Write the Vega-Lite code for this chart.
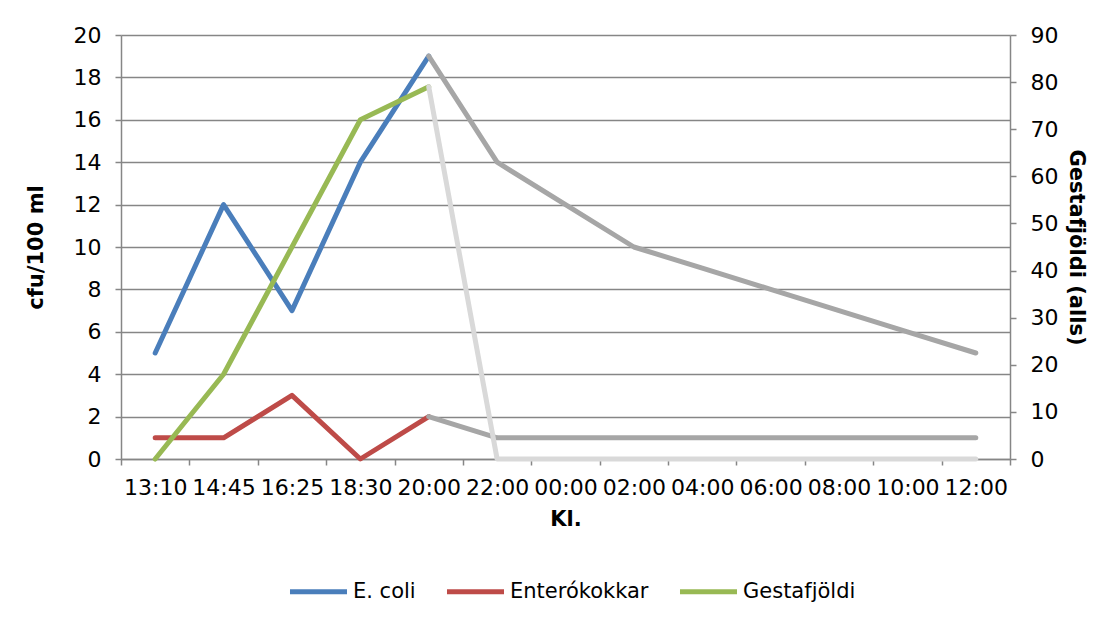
{
  "$schema": "https://vega.github.io/schema/vega-lite/v6.json",
  "width": 889,
  "height": 424,
  "autosize": {"type": "none"},
  "padding": {"left": 121, "top": 35, "right": 108, "bottom": 163},
  "background": "white",
  "config": {
    "font": "DejaVu Sans",
    "view": {"stroke": null},
    "axis": {
      "labelFont": "DejaVu Sans",
      "labelFontSize": 22,
      "labelColor": "#000000",
      "titleFont": "DejaVu Sans",
      "titleFontSize": 21,
      "titleFontWeight": "bold",
      "titleColor": "#000000",
      "domainColor": "#868686",
      "tickColor": "#868686",
      "gridColor": "#868686",
      "domainWidth": 1.5,
      "tickWidth": 1.5,
      "gridWidth": 1.5,
      "tickSize": 6
    },
    "legend": {
      "labelFont": "DejaVu Sans",
      "labelFontSize": 21,
      "labelColor": "#000000",
      "padding": 0
    }
  },
  "datasets": {
    "left": [
      {"kl": "13:10", "s": "E. coli", "v": 5},
      {"kl": "14:45", "s": "E. coli", "v": 12},
      {"kl": "16:25", "s": "E. coli", "v": 7},
      {"kl": "18:30", "s": "E. coli", "v": 14},
      {"kl": "20:00", "s": "E. coli", "v": 19},
      {"kl": "13:10", "s": "Enterókokkar", "v": 1},
      {"kl": "14:45", "s": "Enterókokkar", "v": 1},
      {"kl": "16:25", "s": "Enterókokkar", "v": 3},
      {"kl": "18:30", "s": "Enterókokkar", "v": 0},
      {"kl": "20:00", "s": "Enterókokkar", "v": 2},
      {"kl": "20:00", "s": "E. coli (áfram)", "v": 19},
      {"kl": "22:00", "s": "E. coli (áfram)", "v": 14},
      {"kl": "00:00", "s": "E. coli (áfram)", "v": 12},
      {"kl": "02:00", "s": "E. coli (áfram)", "v": 10},
      {"kl": "04:00", "s": "E. coli (áfram)", "v": 9},
      {"kl": "06:00", "s": "E. coli (áfram)", "v": 8},
      {"kl": "08:00", "s": "E. coli (áfram)", "v": 7},
      {"kl": "10:00", "s": "E. coli (áfram)", "v": 6},
      {"kl": "12:00", "s": "E. coli (áfram)", "v": 5},
      {"kl": "20:00", "s": "Enterókokkar (áfram)", "v": 2},
      {"kl": "22:00", "s": "Enterókokkar (áfram)", "v": 1},
      {"kl": "00:00", "s": "Enterókokkar (áfram)", "v": 1},
      {"kl": "02:00", "s": "Enterókokkar (áfram)", "v": 1},
      {"kl": "04:00", "s": "Enterókokkar (áfram)", "v": 1},
      {"kl": "06:00", "s": "Enterókokkar (áfram)", "v": 1},
      {"kl": "08:00", "s": "Enterókokkar (áfram)", "v": 1},
      {"kl": "10:00", "s": "Enterókokkar (áfram)", "v": 1},
      {"kl": "12:00", "s": "Enterókokkar (áfram)", "v": 1}
    ],
    "right": [
      {"kl": "13:10", "s": "Gestafjöldi", "v": 0},
      {"kl": "14:45", "s": "Gestafjöldi", "v": 18},
      {"kl": "16:25", "s": "Gestafjöldi", "v": 45},
      {"kl": "18:30", "s": "Gestafjöldi", "v": 72},
      {"kl": "20:00", "s": "Gestafjöldi", "v": 79},
      {"kl": "20:00", "s": "Gestafjöldi (áfram)", "v": 79},
      {"kl": "22:00", "s": "Gestafjöldi (áfram)", "v": 0},
      {"kl": "00:00", "s": "Gestafjöldi (áfram)", "v": 0},
      {"kl": "02:00", "s": "Gestafjöldi (áfram)", "v": 0},
      {"kl": "04:00", "s": "Gestafjöldi (áfram)", "v": 0},
      {"kl": "06:00", "s": "Gestafjöldi (áfram)", "v": 0},
      {"kl": "08:00", "s": "Gestafjöldi (áfram)", "v": 0},
      {"kl": "10:00", "s": "Gestafjöldi (áfram)", "v": 0},
      {"kl": "12:00", "s": "Gestafjöldi (áfram)", "v": 0}
    ]
  },
  "layer": [
    {
      "data": {"name": "left"},
      "mark": {"type": "line", "strokeWidth": 5, "strokeCap": "round", "strokeJoin": "round"},
      "encoding": {
        "x": {
          "field": "kl", "type": "nominal",
          "scale": {"type": "band", "domain": ["13:10","14:45","16:25","18:30","20:00","22:00","00:00","02:00","04:00","06:00","08:00","10:00","12:00"], "paddingInner": 0, "paddingOuter": 0},
          "axis": {"title": "Kl.", "labelAngle": 0, "tickBand": "extent", "labelPadding": 12, "titlePadding": 10, "grid": false}
        },
        "y": {
          "field": "v", "type": "quantitative",
          "scale": {"domain": [0, 20]},
          "axis": {"orient": "left", "title": "cfu/100 ml", "values": [0,2,4,6,8,10,12,14,16,18,20], "grid": true, "labelPadding": 14, "titlePadding": 27}
        },
        "color": {
          "field": "s", "type": "nominal",
          "scale": {"domain": ["E. coli","Enterókokkar","Gestafjöldi","E. coli (áfram)","Enterókokkar (áfram)","Gestafjöldi (áfram)"], "range": ["#4A7EBB","#BE4B48","#98B954","#A6A6A6","#A6A6A6","#D9D9D9"]},
          "legend": {"values": ["E. coli","Enterókokkar","Gestafjöldi"], "orient": "none", "legendX": 166, "legendY": 525, "direction": "horizontal", "title": null, "symbolType": "stroke", "symbolStrokeWidth": 5, "symbolSize": 3250, "columnPadding": 20, "labelOffset": 3}
        }
      }
    },
    {
      "data": {"name": "right"},
      "mark": {"type": "line", "strokeWidth": 5, "strokeCap": "round", "strokeJoin": "round"},
      "encoding": {
        "x": {"field": "kl", "type": "nominal"},
        "y": {
          "field": "v", "type": "quantitative",
          "scale": {"domain": [0, 90]},
          "axis": {"orient": "right", "title": "Gestafjöldi (alls)", "values": [0,10,20,30,40,50,60,70,80,90], "grid": false, "labelPadding": 14, "titlePadding": 8}
        },
        "color": {
          "field": "s", "type": "nominal",
          "scale": {"domain": ["E. coli","Enterókokkar","Gestafjöldi","E. coli (áfram)","Enterókokkar (áfram)","Gestafjöldi (áfram)"], "range": ["#4A7EBB","#BE4B48","#98B954","#A6A6A6","#A6A6A6","#D9D9D9"]}
        }
      }
    }
  ],
  "resolve": {"scale": {"y": "independent"}}
}
